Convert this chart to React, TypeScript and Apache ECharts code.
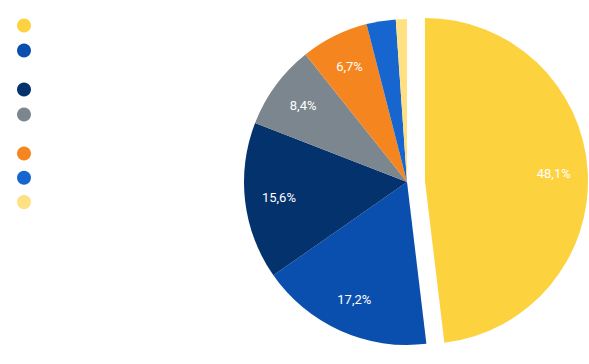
import React, { useEffect, useRef } from "react";
import * as echarts from "echarts";

const categories = [
  "Alimentação em domicílio",
  "Habitação e energia",
  "Transportes",
  "Saúde e serviços",
  "Vestuário",
  "Lazer e cultura",
  "Outras despesas",
];
const values = [48.1, 17.2, 15.6, 8.4, 6.7, 2.9, 1.1];
const colors = ["#fdd23f", "#0b4fae", "#03326c", "#7c868e", "#f5861f", "#1766d0", "#ffe183"];
const labelMin = 5;

export default function App() {
  const ref = useRef<HTMLDivElement>(null);
  useEffect(() => {
    if (!ref.current) return;
    const chart = echarts.init(ref.current, null, { renderer: "svg" });
    const data = categories.map((name, i) => ({
      name,
      value: values[i],
      selected: i === 0,
      itemStyle: { color: colors[i] },
    }));
    const labelData = categories.map((name, i) => ({
      name,
      value: values[i],
      selected: i === 0,
      itemStyle: { color: "rgba(0,0,0,0)" },
      label: { show: values[i] >= labelMin },
    }));
    const legendBase = {
      orient: "vertical" as const,
      left: 17,
      padding: 0,
      icon: "circle",
      itemWidth: 14,
      itemHeight: 14,
      selectedMode: false,
      textStyle: { color: "#ffffff", fontFamily: "Roboto", fontSize: 12, lineHeight: 14 },
    };
    chart.setOption({
      animation: false,
      legend: [
        { ...legendBase, top: 18.5, itemGap: 11, data: categories.slice(0, 2) },
        { ...legendBase, top: 82.5, itemGap: 11, data: categories.slice(2, 4) },
        { ...legendBase, top: 146.5, itemGap: 10.3, data: categories.slice(4) },
      ],
      series: [
        {
          type: "pie",
          center: [407, 182],
          radius: [0, 163],
          startAngle: 90,
          clockwise: true,
          selectedMode: "single",
          selectedOffset: 18,
          silent: true,
          label: { show: false },
          labelLine: { show: false },
          emphasis: { disabled: true },
          data,
        },
        {
          type: "pie",
          center: [407, 182],
          radius: [89, 163],
          startAngle: 90,
          clockwise: true,
          selectedMode: "single",
          selectedOffset: 18,
          silent: true,
          z: 3,
          label: {
            show: true,
            position: "inside",
            color: "#ffffff",
            fontFamily: "Roboto",
            fontSize: 13,
            formatter: (p: any) => p.value.toFixed(1).replace(".", ",") + "%",
          },
          labelLine: { show: false },
          emphasis: { disabled: true },
          data: labelData,
        },
      ],
    });
    return () => chart.dispose();
  }, []);
  return (
    <div
      ref={ref}
      style={{ position: "fixed", left: 0, top: 0, width: 589, height: 364, background: "#ffffff" }}
    />
  );
}
